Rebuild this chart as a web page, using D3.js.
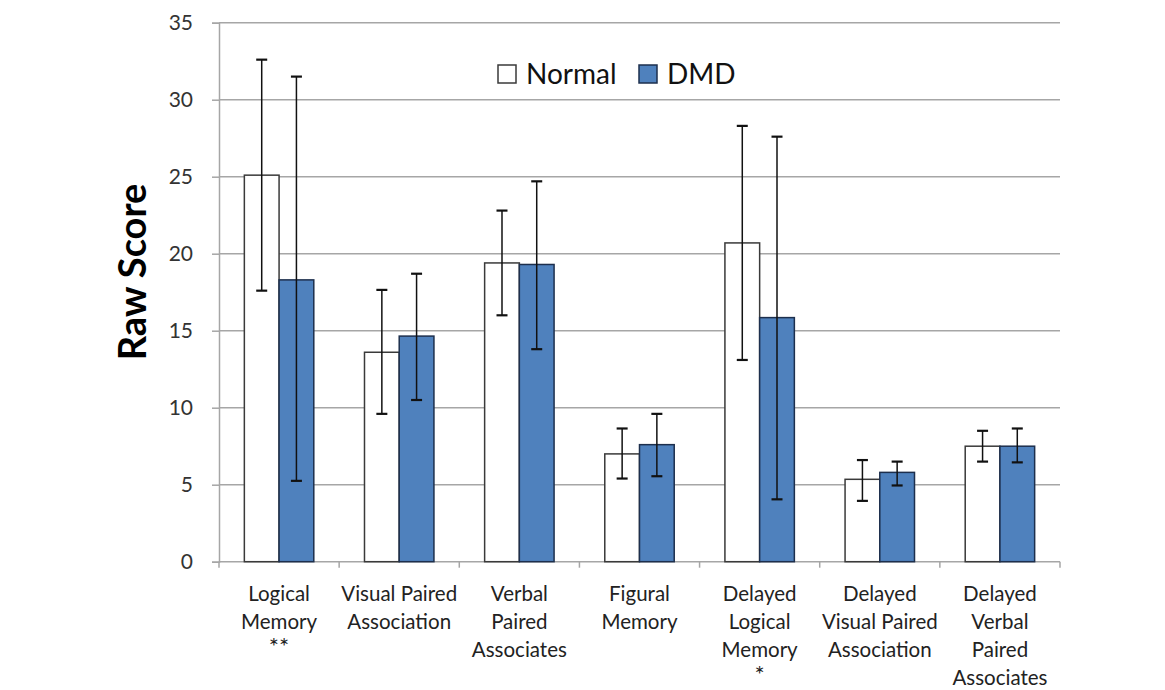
<!DOCTYPE html>
<html>
<head>
<meta charset="utf-8">
<script src="https://cdn.jsdelivr.net/npm/d3@7"></script>
<style>
  body { margin: 0; background: #fff; }
  svg { display: block; }
</style>
</head>
<body>
<svg id="chart"></svg>
<script>
// categories (each line of the x label is an item)
var categories = [
    ["Logical", "Memory", "**"],
    ["Visual Paired", "Association"],
    ["Verbal", "Paired", "Associates"],
    ["Figural", "Memory"],
    ["Delayed", "Logical", "Memory", "*"],
    ["Delayed", "Visual Paired", "Association"],
    ["Delayed", "Verbal", "Paired", "Associates"]
]
var seriesNames = ["Normal", "DMD"]

// mean values
var normalMean = [25.1, 13.6, 19.4, 7.0, 20.7, 5.35, 7.5]
var dmdMean = [18.3, 14.65, 19.3, 7.6, 15.85, 5.8, 7.5]
// error bars (upper / lower ends)
var normalHigh = [32.6, 17.65, 22.8, 8.65, 28.3, 6.6, 8.5]
var normalLow = [17.6, 9.6, 16.0, 5.4, 13.1, 3.95, 6.5]
var dmdHigh = [31.5, 18.7, 24.7, 9.6, 27.6, 6.5, 8.65]
var dmdLow = [5.25, 10.5, 13.8, 5.55, 4.05, 4.95, 6.45]

var yTicks = [0, 5, 10, 15, 20, 25, 30, 35]

var dimensions = {
    width: 1165,
    height: 690,
    margin: { top: 22.7, bottom: 128.3, left: 219, right: 105 }
}

var svg = d3.select("#chart")
    .attr("width", dimensions.width)
    .attr("height", dimensions.height)
    .style("font-family", "Lato, 'Open Sans', sans-serif")

var data = categories.map(function(c, i) {
    return {
        key: i,
        values: [
            { name: "Normal", mean: normalMean[i], hi: normalHigh[i], lo: normalLow[i] },
            { name: "DMD", mean: dmdMean[i], hi: dmdHigh[i], lo: dmdLow[i] }
        ]
    }
})

var x0 = d3.scaleBand()
    .domain(d3.range(categories.length))
    .range([dimensions.margin.left, dimensions.width - dimensions.margin.right])
    .paddingInner(0.422)
    .paddingOuter(0.211)

var x1 = d3.scaleBand()
    .domain(seriesNames)
    .range([0, x0.bandwidth()])

var yScale = d3.scaleLinear()
    .domain([0, 35])
    .range([dimensions.height - dimensions.margin.bottom, dimensions.margin.top])

var colorScale = d3.scaleOrdinal()
    .domain(seriesNames)
    .range(["#ffffff", "#4f81bd"])
var strokeScale = d3.scaleOrdinal()
    .domain(seriesNames)
    .range(["#3a3a3a", "#1d2f4d"])

// gridlines
svg.append("g")
    .selectAll("line")
    .data(yTicks.slice(1))
    .enter()
    .append("line")
    .attr("x1", dimensions.margin.left)
    .attr("x2", dimensions.width - dimensions.margin.right)
    .attr("y1", function(d) { return yScale(d) })
    .attr("y2", function(d) { return yScale(d) })
    .attr("stroke", "#a6a6a6")
    .attr("stroke-width", 1.5)

// y axis
var yAxis = d3.axisLeft(yScale).tickValues(yTicks).tickSize(7).tickPadding(19)
var gy = svg.append("g")
    .attr("transform", "translate(" + dimensions.margin.left + ",0)")
    .call(yAxis)
gy.select(".domain").attr("stroke", "#a6a6a6").attr("stroke-width", 1.5)
gy.selectAll(".tick line").attr("stroke", "#a6a6a6").attr("stroke-width", 1.5)
gy.selectAll(".tick text")
    .style("font-size", "21px")
    .style("font-family", "Lato, sans-serif")
    .attr("fill", "#333")

// x axis line and category ticks
var baseY = yScale(0)
var step = x0.step()
var xTickPos = d3.range(categories.length + 1).map(function(i) {
    return dimensions.margin.left + i * step
})
svg.append("line")
    .attr("x1", dimensions.margin.left)
    .attr("x2", dimensions.width - dimensions.margin.right)
    .attr("y1", baseY)
    .attr("y2", baseY)
    .attr("stroke", "#a6a6a6")
    .attr("stroke-width", 1.5)
svg.append("g")
    .selectAll("line")
    .data(xTickPos)
    .enter()
    .append("line")
    .attr("x1", function(d) { return d })
    .attr("x2", function(d) { return d })
    .attr("y1", baseY)
    .attr("y2", baseY + 6)
    .attr("stroke", "#a6a6a6")
    .attr("stroke-width", 1.5)

// bars
var groups = svg.append("g")
    .selectAll("g")
    .data(data)
    .enter()
    .append("g")
    .attr("transform", function(d) { return "translate(" + x0(d.key) + ",0)" })

groups.selectAll("rect")
    .data(function(d) { return d.values })
    .enter()
    .append("rect")
    .attr("x", function(d) { return x1(d.name) })
    .attr("y", function(d) { return yScale(d.mean) })
    .attr("width", x1.bandwidth())
    .attr("height", function(d) { return yScale(0) - yScale(d.mean) })
    .attr("fill", function(d) { return colorScale(d.name) })
    .attr("stroke", function(d) { return strokeScale(d.name) })
    .attr("stroke-width", 1.5)

// error bars
var err = groups.selectAll("g.err")
    .data(function(d) { return d.values })
    .enter()
    .append("g")
    .attr("class", "err")
    .attr("stroke", "#111")
    .attr("stroke-width", 1.5)
var cx = function(d) { return x1(d.name) + x1.bandwidth() / 2 }
err.append("line")
    .attr("x1", cx).attr("x2", cx)
    .attr("y1", function(d) { return yScale(d.hi) })
    .attr("y2", function(d) { return yScale(d.lo) })
err.append("line")
    .attr("x1", function(d) { return cx(d) - 5.5 })
    .attr("x2", function(d) { return cx(d) + 5.5 })
    .attr("y1", function(d) { return yScale(d.hi) })
    .attr("y2", function(d) { return yScale(d.hi) })
    .attr("stroke-width", 2.2)
err.append("line")
    .attr("x1", function(d) { return cx(d) - 5.5 })
    .attr("x2", function(d) { return cx(d) + 5.5 })
    .attr("y1", function(d) { return yScale(d.lo) })
    .attr("y2", function(d) { return yScale(d.lo) })
    .attr("stroke-width", 2.2)

// category labels
var labels = svg.append("g")
    .selectAll("text")
    .data(categories)
    .enter()
    .append("text")
    .attr("text-anchor", "middle")
    .attr("fill", "#222")
    .style("font-size", "20.5px")
    .attr("transform", function(d, i) {
        return "translate(" + (x0(i) + x0.bandwidth() / 2) + "," + 601 + ")"
    })
labels.selectAll("tspan")
    .data(function(d) { return d })
    .enter()
    .append("tspan")
    .attr("x", 0)
    .attr("y", function(d, i) {
        // keep the bigger asterisks inside the picture
        return i * 28 + (d.indexOf("*") === 0 ? -2 : 0)
    })
    .style("font-size", function(d) { return d.indexOf("*") === 0 ? "24px" : null })
    .text(function(d) { return d })

// y axis title
svg.append("text")
    .attr("transform", "translate(146,272) rotate(-90)")
    .attr("text-anchor", "middle")
    .style("font-size", "38px")
    .style("font-weight", "bold")
    .attr("fill", "#000")
    .text("Raw Score")

// legend
var legendX = [498, 639]
var legend = svg.append("g")
    .selectAll("g")
    .data(seriesNames)
    .enter()
    .append("g")
    .attr("transform", function(d, i) { return "translate(" + legendX[i] + ",65)" })
legend.append("rect")
    .attr("width", 18)
    .attr("height", 18)
    .attr("fill", function(d) { return colorScale(d) })
    .attr("stroke", function(d) { return strokeScale(d) })
    .attr("stroke-width", 1.5)
legend.append("text")
    .attr("x", 28)
    .attr("y", 19)
    .style("font-size", "28px")
    .attr("fill", "#111")
    .text(function(d) { return d })
</script>
</body>
</html>
